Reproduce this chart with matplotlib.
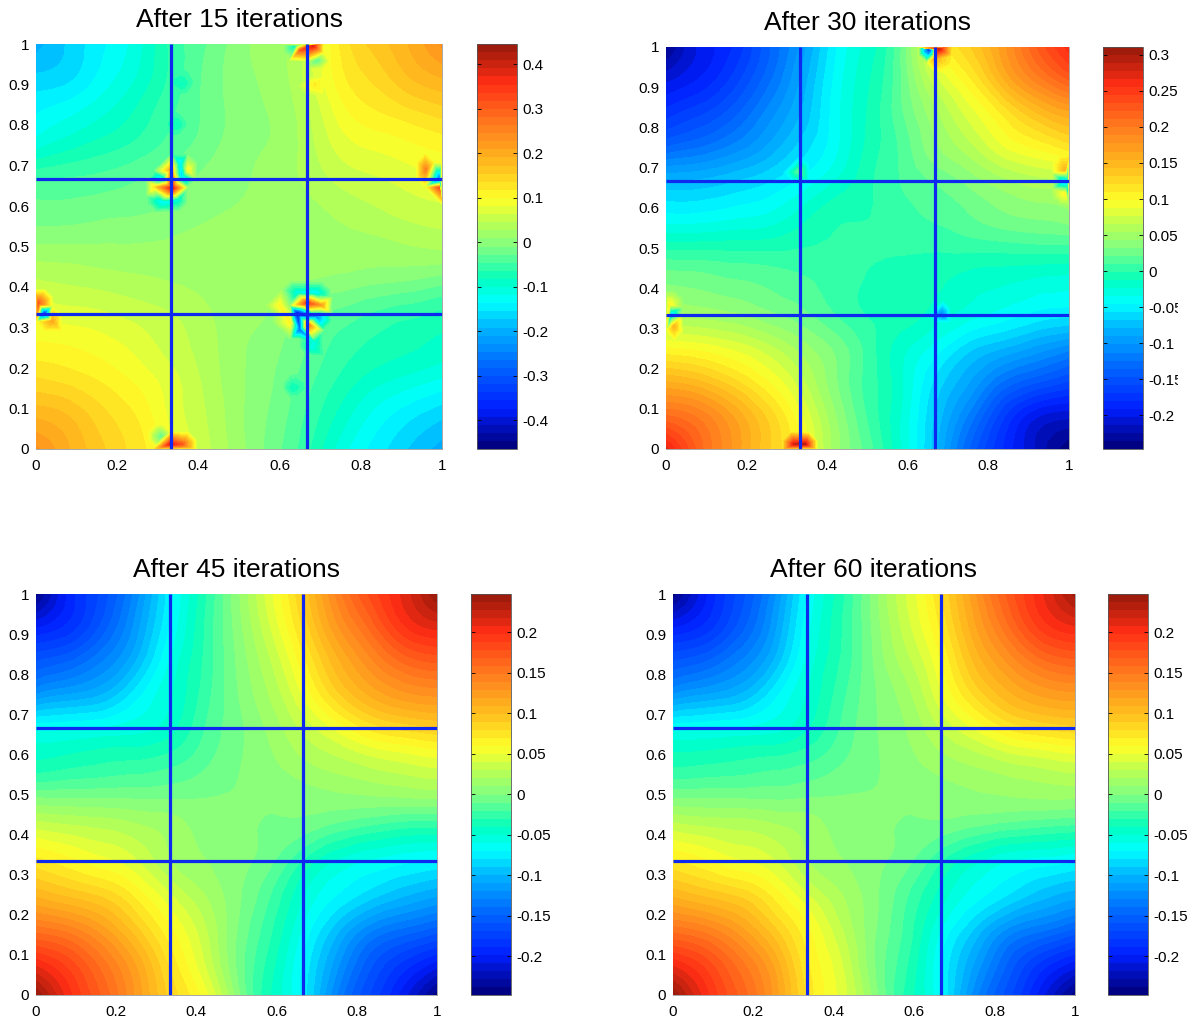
import matplotlib
matplotlib.use('Agg')
import matplotlib.pyplot as plt
import matplotlib.tri as mtri
import numpy as np
from matplotlib.colors import LinearSegmentedColormap
from matplotlib.transforms import Bbox

plt.rcParams['font.family'] = ['Liberation Sans', 'DejaVu Sans']

# node positions of the value tables, rows go from y=1 down to y=0
grid_x = [0, 1/12, 2/12, 3/12, 4/12, 5/12, 6/12, 7/12, 8/12, 9/12, 10/12, 11/12, 1]
grid_y = [1, 11/12, 10/12, 9/12, 8/12, 7/12, 6/12, 5/12, 4/12, 3/12, 2/12, 1/12, 0]

values_15 = [
    [-.20, -.17, -.14, -.11, -.06, -.03, 0, .02, .05, .12, .16, .19, .23],
    [-.17, -.16, -.13, -.10, -.06, -.025, 0, .015, .05, .11, .14, .17, .19],
    [-.14, -.125, -.105, -.08, -.05, -.025, -.002, .01, .04, .09, .115, .13, .145],
    [-.11, -.09, -.075, -.06, -.04, -.02, 0, .01, .035, .07, .085, .095, .105],
    [-.05, -.045, -.04, -.03, -.02, -.005, .005, .015, .03, .05, .06, .07, .08],
    [-.02, -.02, -.015, -.012, -.005, .005, .01, .015, .02, .03, .04, .05, .055],
    [.01, .01, .01, .01, .012, .015, .015, .018, .02, .02, .02, .025, .03],
    [.045, .04, .035, .03, .025, .02, .015, .012, .008, .002, -.005, -.01, -.02],
    [.075, .07, .065, .055, .045, .03, .015, .005, -.02, -.035, -.05, -.06, -.07],
    [.105, .10, .09, .075, .055, .035, .012, -.005, -.03, -.055, -.07, -.08, -.09],
    [.14, .13, .115, .095, .07, .04, .012, -.01, -.04, -.07, -.095, -.11, -.125],
    [.185, .17, .14, .115, .075, .045, .012, -.015, -.05, -.09, -.125, -.15, -.17],
    [.23, .19, .155, .125, .09, .05, .015, -.02, -.06, -.11, -.145, -.175, -.20],
]
values_30 = [
    [-.24, -.20, -.18, -.14, -.10, -.05, -.02, .02, .09, .13, .17, .22, .26],
    [-.205, -.19, -.165, -.13, -.09, -.045, -.015, .02, .07, .105, .15, .19, .22],
    [-.175, -.16, -.14, -.11, -.08, -.042, -.012, .018, .05, .08, .11, .14, .16],
    [-.135, -.125, -.11, -.09, -.065, -.04, -.01, .012, .04, .06, .085, .10, .115],
    [-.08, -.078, -.07, -.06, -.045, -.025, -.005, .01, .022, .035, .05, .06, .065],
    [-.045, -.045, -.04, -.035, -.02, -.005, -.002, .005, .012, .02, .03, .035, .04],
    [-.005, -.005, -.005, -.005, -.002, 0, 0, 0, 0, .002, .003, .005, .005],
    [.03, .027, .022, .018, .012, .005, -.003, -.005, -.01, -.018, -.022, -.027, -.03],
    [.055, .05, .045, .035, .025, .01, -.002, -.006, -.018, -.03, -.04, -.05, -.055],
    [.10, .095, .085, .07, .05, .03, .005, -.02, -.04, -.065, -.08, -.095, -.11],
    [.155, .145, .125, .10, .07, .035, .005, -.022, -.06, -.09, -.125, -.145, -.16],
    [.21, .195, .165, .13, .09, .045, .008, -.025, -.07, -.115, -.165, -.20, -.21],
    [.27, .215, .175, .135, .10, .05, .015, -.025, -.075, -.135, -.18, -.215, -.245],
]
values_45 = [
    [-.245, -.195, -.165, -.125, -.075, -.035, .005, .045, .09, .14, .18, .21, .245],
    [-.20, -.185, -.155, -.115, -.07, -.032, .003, .038, .08, .125, .16, .195, .21],
    [-.16, -.15, -.13, -.10, -.06, -.03, 0, .028, .065, .105, .135, .16, .17],
    [-.12, -.11, -.10, -.075, -.052, -.027, -.002, .02, .05, .085, .11, .125, .13],
    [-.065, -.063, -.06, -.055, -.045, -.022, -.004, .012, .032, .052, .072, .082, .088],
    [-.04, -.036, -.032, -.03, -.025, -.014, -.002, .007, .018, .026, .034, .04, .045],
    [-.005, -.005, -.005, -.005, -.004, -.002, 0, .002, .005, .008, .01, .012, .014],
    [.037, .032, .028, .022, .015, .006, .002, -.002, -.006, -.016, -.024, -.03, -.032],
    [.072, .062, .052, .04, .02, .01, .003, -.008, -.032, -.052, -.062, -.068, -.072],
    [.105, .095, .085, .065, .04, .02, .002, -.02, -.05, -.07, -.085, -.098, -.108],
    [.15, .14, .12, .09, .06, .032, 0, -.028, -.062, -.095, -.125, -.14, -.152],
    [.20, .18, .15, .115, .075, .04, -.002, -.035, -.072, -.115, -.155, -.18, -.20],
    [.245, .20, .165, .125, .085, .055, .005, -.04, -.075, -.13, -.17, -.205, -.245],
]
values_60 = [
    [-.245, -.20, -.165, -.125, -.07, -.035, .004, .04, .078, .125, .17, .205, .24],
    [-.20, -.185, -.155, -.115, -.065, -.032, .002, .035, .07, .115, .155, .19, .205],
    [-.16, -.15, -.13, -.10, -.058, -.03, 0, .026, .058, .10, .13, .155, .165],
    [-.12, -.11, -.10, -.075, -.05, -.025, -.002, .016, .047, .08, .105, .12, .125],
    [-.065, -.063, -.06, -.055, -.042, -.02, -.002, .01, .03, .05, .07, .08, .085],
    [-.035, -.033, -.03, -.027, -.022, -.012, -.002, .006, .015, .022, .03, .035, .04],
    [-.005, -.005, -.005, -.005, -.003, -.001, 0, .002, .005, .008, .01, .012, .012],
    [.035, .03, .027, .022, .015, .006, .002, -.002, -.005, -.012, -.018, -.022, -.025],
    [.07, .06, .05, .04, .02, .01, .002, -.008, -.03, -.048, -.06, -.065, -.07],
    [.105, .095, .085, .065, .04, .02, .002, -.02, -.045, -.065, -.08, -.095, -.105],
    [.15, .14, .12, .09, .06, .03, .001, -.025, -.06, -.09, -.12, -.135, -.15],
    [.20, .18, .15, .115, .07, .04, 0, -.03, -.07, -.11, -.15, -.18, -.20],
    [.245, .20, .165, .125, .075, .045, .005, -.035, -.07, -.125, -.165, -.205, -.245],
]

# local peaks next to the line crossings and edges
spots_15_x = [.335, .332, .355, .31, .36, .293, .313, .347, .375,
              .643, .667, .704, .69, .626, .60, .67, .65, .645, .687, .687,
              .652, .683, .64, .692, .687,
              .331, .36, .31,
              .96, .994, .993,
              .006, .02, .04,
              .36, .35, .63, .68]
spots_15_y = [.644, .689, .706, .667, .669, .647, .61, .615, .689,
              .336, .36, .355, .326, .314, .355, .306, .296, .385, .385, .264,
              .985, .995, .995, .96, .90,
              .012, .012, .03,
              .69, .665, .645,
              .36, .335, .315,
              .90, .80, .15, .25]
spots_15_v = [.38, .20, -.17, -.18, -.20, .13, -.15, -.12, .10,
              -.45, .33, .20, -.25, .11, .10, .25, -.30, -.13, -.15, -.12,
              .30, .38, -.10, -.05, .12,
              .38, .30, -.05,
              .25, -.30, .30,
              .30, -.40, .20,
              -.09, -.09, -.09, -.12]
spots_30_x = [.655, .678, .667, .318, .345, .99, .99, .995, .008, .012, .02, .331, .682]
spots_30_y = [.995, .995, .97, .012, .012, .695, .635, .665, .36, .335, .305, .69, .335]
spots_30_v = [-.20, .28, .15, .28, .29, .15, .10, -.10, .10, -.08, .15, .02, -.12]
spots_45_x = []
spots_45_y = []
spots_45_v = []
spots_60_x = []
spots_60_y = []
spots_60_v = []

titles = ['After 15 iterations', 'After 30 iterations', 'After 45 iterations', 'After 60 iterations']
color_limits = [(-.465, .445), (-.247, .311), (-.248, .247), (-.248, .247)]
bar_ticks = [
    [-.4, -.3, -.2, -.1, 0, .1, .2, .3, .4],
    [-.2, -.15, -.1, -.05, 0, .05, .1, .15, .2, .25, .3],
    [-.2, -.15, -.1, -.05, 0, .05, .1, .15, .2],
    [-.2, -.15, -.1, -.05, 0, .05, .1, .15, .2],
]
bar_labels = [
    ['-0.4', '-0.3', '-0.2', '-0.1', '0', '0.1', '0.2', '0.3', '0.4'],
    ['-0.2', '-0.15', '-0.1', '-0.05', '0', '0.05', '0.1', '0.15', '0.2', '0.25', '0.3'],
    ['-0.2', '-0.15', '-0.1', '-0.05', '0', '0.05', '0.1', '0.15', '0.2'],
    ['-0.2', '-0.15', '-0.1', '-0.05', '0', '0.05', '0.1', '0.15', '0.2'],
]
x_ticks = [0, .2, .4, .6, .8, 1]
x_labels = ['0', '0.2', '0.4', '0.6', '0.8', '1']
y_ticks = [0, .1, .2, .3, .4, .5, .6, .7, .8, .9, 1]
y_labels = ['0', '0.1', '0.2', '0.3', '0.4', '0.5', '0.6', '0.7', '0.8', '0.9', '1']
line_positions = [1/3, 2/3]

cmap_stops = [0, .10, .20, .30, .36, .42, .50, .56, .62, .70, .80, .905, 1]
cmap_colors = ['#000078', '#001eff', '#0064ff', '#00b4ff', '#00ffff', '#00ffbe', '#82ff82',
               '#beff50', '#ffff28', '#ffbe1e', '#ff7d1e', '#ff2d14', '#96190a']
paper_jet = LinearSegmentedColormap.from_list('paper_jet', list(zip(cmap_stops, cmap_colors)))

# pixel boxes: left, top, right, bottom
axes_boxes = [(36, 44, 442, 449), (666, 47, 1069, 449), (36, 594, 437, 995), (673, 594, 1075, 995)]
bar_boxes = [(477, 44, 517, 449), (1103, 47, 1143, 449), (471, 594, 511, 995), (1108, 594, 1148, 995)]

W, H = 1191, 1024
fig = plt.figure(figsize=(W / 100, H / 100), dpi=100)


def place(box):
    l, t, r, b = box
    return fig.add_axes([l / W, 1 - b / H, (r - l) / W, (b - t) / H])


tables = [values_15, values_30, values_45, values_60]
spots = [(spots_15_x, spots_15_y, spots_15_v), (spots_30_x, spots_30_y, spots_30_v),
         (spots_45_x, spots_45_y, spots_45_v), (spots_60_x, spots_60_y, spots_60_v)]

for i in range(4):
    ax = place(axes_boxes[i])
    xx, yy = np.meshgrid(grid_x, grid_y)
    vmin, vmax = color_limits[i]
    levels = np.linspace(vmin, vmax, 51)
    tri = mtri.Triangulation(xx.ravel(), yy.ravel())
    sx, sy, sv = spots[i]
    # smooth the contour outlines on the table first, then drop the peaks in
    if len(sx) > 0:
        fine_tri, fine_v = mtri.UniformTriRefiner(tri).refine_field(np.array(tables[i]).ravel(), subdiv=2)
        # free some room round each peak so it fades out over a few pixels
        dist = np.hypot(fine_tri.x[:, None] - np.array(sx), fine_tri.y[:, None] - np.array(sy)).min(axis=1)
        keep = dist > 0.024
        cx = np.concatenate([fine_tri.x[keep], sx])
        cy = np.concatenate([fine_tri.y[keep], sy])
        cv = np.clip(np.concatenate([fine_v[keep], sv]), vmin + 1e-4, vmax - 1e-4)
        cs = ax.tricontourf(cx, cy, cv, levels=levels, cmap=paper_jet, vmin=vmin, vmax=vmax)
    else:
        fine_tri, fine_v = mtri.UniformTriRefiner(tri).refine_field(np.array(tables[i]).ravel(), subdiv=3)
        fine_v = np.clip(fine_v, vmin + 1e-4, vmax - 1e-4)
        cs = ax.tricontourf(fine_tri, fine_v, levels=levels, cmap=paper_jet, vmin=vmin, vmax=vmax)
    cs.set_edgecolor('face')
    cs.set_linewidth(0.3)
    for p in line_positions:
        ax.plot([p, p], [0, 1], color='#0f28f0', lw=2.3, solid_capstyle='butt', clip_on=False)
        ax.plot([0, 1], [p, p], color='#0f28f0', lw=2.3, solid_capstyle='butt', clip_on=False)
    ax.set_xlim(0, 1)
    ax.set_ylim(0, 1)
    ax.set_xticks(x_ticks, x_labels)
    ax.set_yticks(y_ticks, y_labels)
    ax.tick_params(direction='in', length=0, labelsize=11, pad=5)
    ax.tick_params(axis='x', pad=7)
    for s in ax.spines.values():
        s.set_color('#999999')
        s.set_linewidth(0.6)
    ax.spines['top'].set_visible(False)
    ax.spines['left'].set_visible(False)
    ax.set_title(titles[i], fontsize=19, pad=12)

    cax = place(bar_boxes[i])
    cb = fig.colorbar(cs, cax=cax)
    cb.set_ticks(bar_ticks[i], labels=bar_labels[i])
    cb.ax.tick_params(direction='in', length=3, width=0.6, left=True, right=True, labelsize=11, pad=4)
    cb.outline.set_linewidth(0.6)
    cb.outline.set_edgecolor('#555555')
    if i == 1:
        # the long labels run off the cropped right edge in this panel
        for t in cb.ax.get_yticklabels():
            t.set_clip_box(Bbox([[0, 0], [1178, H]]))
            t.set_clip_on(True)

fig.savefig('out.png', dpi=100)
